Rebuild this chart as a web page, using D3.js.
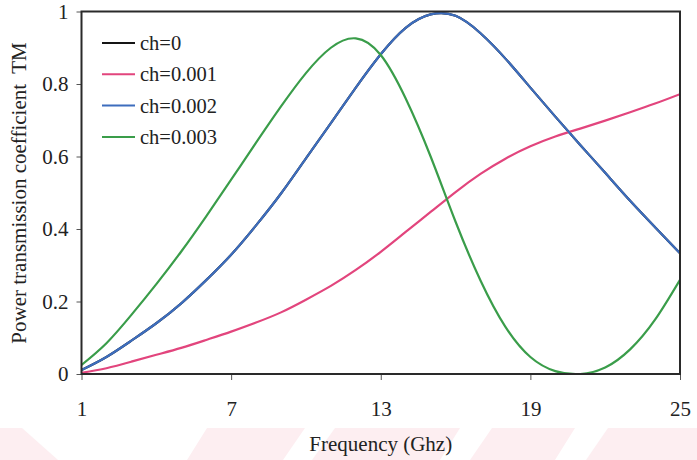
<!DOCTYPE html>
<html>
<head>
<meta charset="utf-8">
<script src="https://cdn.jsdelivr.net/npm/d3@7"></script>
<style>
  body { margin: 0; background: #fff; }
  svg text { font-family: "Times New Roman", "Liberation Serif", Times, "DejaVu Serif", serif; fill: #222; }
</style>
</head>
<body>
<svg id="chart"></svg>
<script>
// frequency (GHz) and transmission for each chirality value
const freq = [1, 2, 3, 4, 5, 6, 7, 8, 9, 10, 11, 12, 13, 14, 15, 16, 17, 18, 19, 20, 21, 22, 23, 24, 25];

const ch001 = [0.003, 0.016, 0.034, 0.053, 0.072, 0.094, 0.117, 0.142, 0.17, 0.205, 0.243, 0.287, 0.337,
  0.392, 0.447, 0.502, 0.552, 0.594, 0.628, 0.655, 0.677, 0.699, 0.722, 0.746, 0.772];

const ch002 = [0.011, 0.047, 0.092, 0.14, 0.195, 0.259, 0.329, 0.41, 0.498, 0.595, 0.692, 0.79, 0.882,
  0.955, 0.992, 0.988, 0.94, 0.87, 0.79, 0.71, 0.632, 0.555, 0.478, 0.405, 0.333];

const ch003 = [0.025, 0.085, 0.163, 0.248, 0.338, 0.435, 0.536, 0.638, 0.738, 0.83, 0.9, 0.926, 0.88,
  0.76, 0.6, 0.42, 0.258, 0.13, 0.047, 0.008, 0.0, 0.018, 0.068, 0.15, 0.26];

// ch=0 is not visible in the figure: it sits under the ch=0.002 curve
const ch000 = ch002.slice();

const seriesNames = ['ch=0', 'ch=0.001', 'ch=0.002', 'ch=0.003'];
const seriesValues = [ch000, ch001, ch002, ch003];
const seriesColors = ['#151515', '#e2457d', '#3d6dbd', '#3a9d4a'];

const xTicks = [1, 7, 13, 19, 25];
const yTicks = [0, 0.2, 0.4, 0.6, 0.8, 1];

const w = 697, h = 460;

const svg = d3.select('#chart')
  .attr('width', w)
  .attr('height', h);

// faint watermark bands at the bottom of the scan
const watermark = [
  [[0, 428], [22, 428], [58, 460], [0, 460]],
  [[207, 428], [305, 428], [283, 460], [187, 460]],
  [[335, 428], [460, 428], [440, 460], [312, 460]],
  [[492, 428], [575, 428], [555, 460], [470, 460]],
  [[608, 428], [697, 428], [697, 460], [586, 460]]
];
svg.selectAll('polygon.wm')
  .data(watermark)
  .enter()
  .append('polygon')
  .attr('class', 'wm')
  .attr('points', (d) => d.map((p) => p.join(',')).join(' '))
  .attr('fill', '#fdeef1');

const xScale = d3.scaleLinear()
  .domain([1, 25])
  .range([81.5, 680]);

const yScale = d3.scaleLinear()
  .domain([0, 1])
  .range([374, 11.5]);

// axes
const xAxis = d3.axisBottom(xScale)
  .tickValues(xTicks)
  .tickSize(6)
  .tickPadding(21)
  .tickFormat(d3.format('d'));

const yAxis = d3.axisLeft(yScale)
  .tickValues(yTicks)
  .tickSize(5)
  .tickPadding(8)
  .tickFormat(d3.format('~g'));

const xAxisGroup = svg.append('g')
  .attr('transform', `translate(0, ${yScale(0)})`)
  .call(xAxis);

const yAxisGroup = svg.append('g')
  .attr('transform', `translate(${xScale(1)}, 0)`)
  .call(yAxis);

[xAxisGroup, yAxisGroup].forEach((g) => {
  g.attr('font-family', null);
  g.select('.domain').remove();
  g.selectAll('.tick line').attr('stroke', '#555').attr('stroke-width', 1);
  g.selectAll('.tick text')
    .attr('font-size', 21)
    .attr('fill', '#222');
});

// curves, clipped to the plot box
svg.append('clipPath')
  .attr('id', 'plotClip')
  .append('rect')
  .attr('x', xScale(1))
  .attr('y', yScale(1))
  .attr('width', xScale(25) - xScale(1))
  .attr('height', yScale(0) - yScale(1));

const line = d3.line()
  .x((d, i) => xScale(freq[i]))
  .y((d) => yScale(d))
  .curve(d3.curveNatural);

svg.append('g')
  .attr('clip-path', 'url(#plotClip)')
  .selectAll('path.curve')
  .data(seriesValues)
  .enter()
  .append('path')
  .attr('class', 'curve')
  .attr('d', line)
  .attr('fill', 'none')
  .attr('stroke', (d, i) => seriesColors[i])
  .attr('stroke-width', 2.2);

// plot frame
svg.append('rect')
  .attr('x', xScale(1))
  .attr('y', yScale(1))
  .attr('width', xScale(25) - xScale(1))
  .attr('height', yScale(0) - yScale(1))
  .attr('fill', 'none')
  .attr('stroke', '#2a2a2a')
  .attr('stroke-width', 2);

// legend
const legend = svg.append('g')
  .attr('transform', 'translate(102, 43)');

const rows = legend.selectAll('g')
  .data(seriesNames)
  .enter()
  .append('g')
  .attr('transform', (d, i) => `translate(0, ${i * 31.3})`);

rows.append('line')
  .attr('x1', 0)
  .attr('x2', 33)
  .attr('stroke', (d, i) => seriesColors[i])
  .attr('stroke-width', 2);

rows.append('text')
  .attr('x', 38)
  .attr('y', 7)
  .attr('font-size', 20.5)
  .text((d) => d);

// axis titles
svg.append('text')
  .attr('x', xScale(13))
  .attr('y', 451)
  .attr('text-anchor', 'middle')
  .attr('font-size', 21)
  .text('Frequency (Ghz)');

svg.append('text')
  .attr('transform', 'translate(26, 193) rotate(-90)')
  .attr('text-anchor', 'middle')
  .attr('font-size', 21)
  .style('white-space', 'pre')
  .text('Power transmission coefficient  TM');
</script>
</body>
</html>
